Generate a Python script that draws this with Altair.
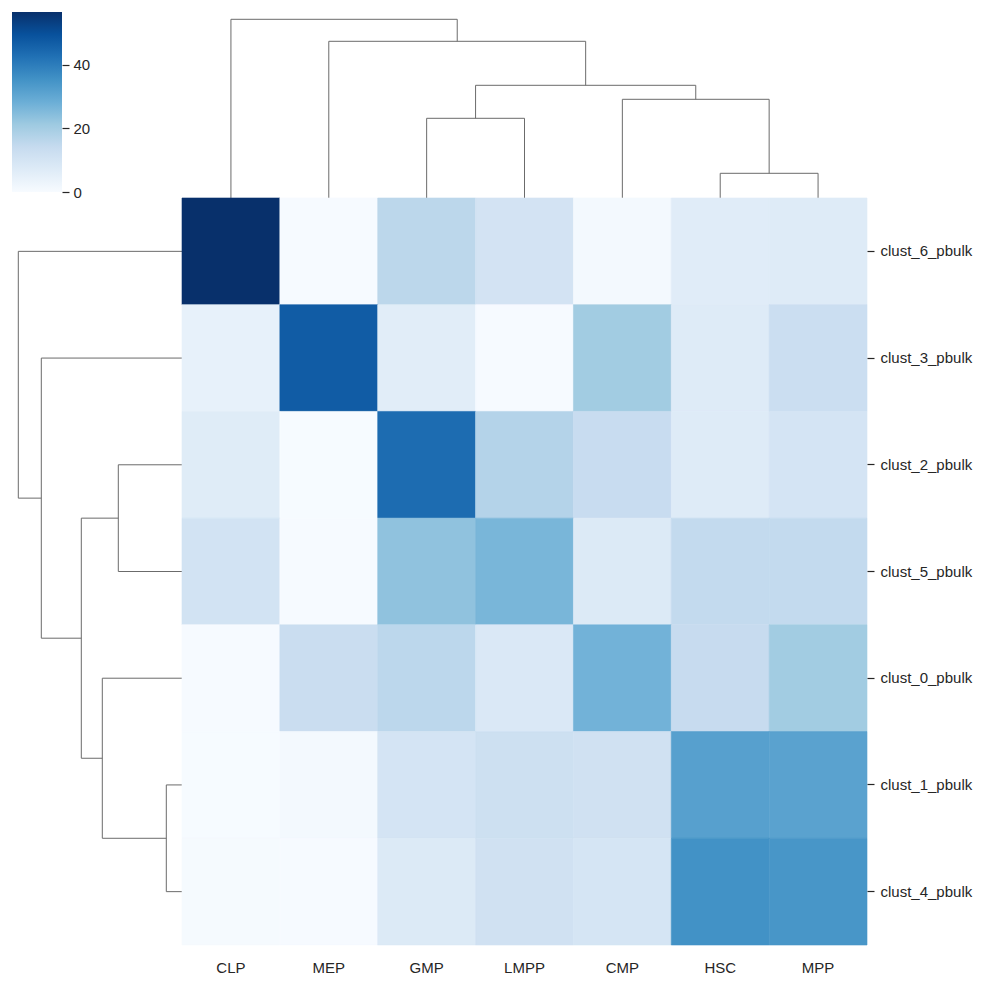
import altair as alt
import pandas as pd

# ---- data -------------------------------------------------------------
columns = ["CLP", "MEP", "GMP", "LMPP", "CMP", "HSC", "MPP"]
rows = ["clust_6_pbulk", "clust_3_pbulk", "clust_2_pbulk", "clust_5_pbulk",
        "clust_0_pbulk", "clust_1_pbulk", "clust_4_pbulk"]

clust_6 = [56.6, 0.3, 16.0, 10.4, 1.1, 6.6, 7.2]
clust_3 = [4.6, 47.0, 6.3, 0.3, 20.5, 7.2, 12.8]
clust_2 = [6.8, 0.2, 43.6, 17.3, 13.7, 7.2, 10.1]
clust_5 = [10.7, 0.3, 23.2, 26.3, 7.7, 14.6, 14.6]
clust_0 = [0.3, 13.1, 15.9, 8.3, 27.3, 14.0, 20.5]
clust_1 = [0.2, 1.1, 10.1, 12.1, 11.3, 31.8, 31.3]
clust_4 = [0.6, 0.3, 7.7, 11.3, 9.7, 35.3, 34.4]
matrix = [clust_6, clust_3, clust_2, clust_5, clust_0, clust_1, clust_4]

# linkage (leaf ids 0..6 in display order, internal nodes 7..)
col_link_left = [5, 2, 4, 8, 1, 0]
col_link_right = [6, 3, 7, 9, 10, 11]
col_link_height = [24.7, 79.7, 98.7, 112.7, 156.7, 178.7]

row_link_left = [5, 2, 4, 8, 1, 0]
row_link_right = [6, 3, 7, 9, 10, 11]
row_link_height = [15.7, 63.7, 79.7, 100.7, 140.7, 163.7]

colorbar_ticks = [0, 20, 40]
blues = ["#f7fbff", "#deebf7", "#c6dbef", "#9ecae1", "#6baed6",
         "#4292c6", "#2171b5", "#08519c", "#08306b"]

# ---- derived tables ---------------------------------------------------
heat = pd.DataFrame([
    {"row": r, "col": c, "value": matrix[i][j]}
    for i, r in enumerate(rows) for j, c in enumerate(columns)
])
vmin = 0.0
vmax = float(heat["value"].max())
stops_domain = [vmin + (vmax - vmin) * k / (len(blues) - 1) for k in range(len(blues))]


def dendro_segments(lefts, rights, heights, n):
    pos = {i: i + 0.5 for i in range(n)}
    hgt = {i: 0.0 for i in range(n)}
    segs = []
    for k, (a, b, d) in enumerate(zip(lefts, rights, heights)):
        segs.append({"p": pos[a], "p2": pos[a], "d": hgt[a], "d2": d})
        segs.append({"p": pos[b], "p2": pos[b], "d": hgt[b], "d2": d})
        segs.append({"p": pos[a], "p2": pos[b], "d": d, "d2": d})
        pos[n + k] = (pos[a] + pos[b]) / 2
        hgt[n + k] = d
    return pd.DataFrame(segs)


col_segs = dendro_segments(col_link_left, col_link_right, col_link_height, len(columns))
row_segs = dendro_segments(row_link_left, row_link_right, row_link_height, len(rows))

FONT = "Liberation Sans"
TXT = "#262626"
LINE = "#6b6b6b"
FS = 15

HEAT_W, HEAT_H = 685, 747
ROWD_W = 170
COLD_H = 186

# ---- colorbar ---------------------------------------------------------
cb_df = pd.DataFrame({"lo": [vmin], "hi": [vmax]})
colorbar = alt.Chart(cb_df).mark_rect(
    color=alt.Gradient(
        gradient="linear",
        stops=[alt.GradientStop(color=c, offset=k / (len(blues) - 1)) for k, c in enumerate(blues)],
        x1=0, x2=0, y1=1, y2=0,
    )
).encode(
    y=alt.Y("lo:Q", scale=alt.Scale(domain=[vmin, vmax], nice=False, zero=False),
            axis=alt.Axis(orient="right", values=colorbar_ticks, title=None, grid=False,
                          domain=False, ticks=True, tickSize=7, tickColor=TXT, tickWidth=1.2,
                          labelPadding=4, labelFont=FONT, labelFontSize=FS, labelColor=TXT)),
    y2="hi:Q",
).properties(width=50, height=180)

# ---- column dendrogram ------------------------------------------------
col_dendro = alt.Chart(col_segs).mark_rule(color=LINE, strokeWidth=1).encode(
    x=alt.X("p:Q", scale=alt.Scale(domain=[0, len(columns)], nice=False, zero=False), axis=None),
    x2="p2:Q",
    y=alt.Y("d:Q", scale=alt.Scale(domain=[0, COLD_H], nice=False, zero=False), axis=None),
    y2="d2:Q",
).properties(width=HEAT_W, height=COLD_H)

# ---- row dendrogram ---------------------------------------------------
row_dendro = alt.Chart(row_segs).mark_rule(color=LINE, strokeWidth=1).encode(
    y=alt.Y("p:Q", scale=alt.Scale(domain=[0, len(rows)], nice=False, zero=False, reverse=True), axis=None),
    y2="p2:Q",
    x=alt.X("d:Q", scale=alt.Scale(domain=[0, ROWD_W], nice=False, zero=False, reverse=True), axis=None),
    x2="d2:Q",
).properties(width=ROWD_W, height=HEAT_H)

# ---- heatmap ----------------------------------------------------------
color_scale = alt.Scale(domain=stops_domain, range=blues, interpolate="rgb")
heatmap = alt.Chart(heat).mark_rect(strokeWidth=0.6).encode(
    x=alt.X("col:N", sort=columns, scale=alt.Scale(paddingInner=0, paddingOuter=0),
            axis=alt.Axis(orient="bottom", title=None, labelAngle=0, ticks=False, tickSize=0,
                          domain=False, grid=False, labelPadding=15, labelFont=FONT,
                          labelFontSize=FS, labelColor=TXT)),
    y=alt.Y("row:N", sort=rows, scale=alt.Scale(paddingInner=0, paddingOuter=0),
            axis=alt.Axis(orient="right", title=None, ticks=True, tickSize=7, tickColor=TXT,
                          tickWidth=1.2, domain=False, grid=False, labelPadding=6,
                          labelFont=FONT, labelFontSize=FS, labelColor=TXT)),
    color=alt.Color("value:Q", legend=None, scale=color_scale),
    stroke=alt.Stroke("value:Q", legend=None, scale=color_scale),
).properties(width=HEAT_W, height=HEAT_H)

chart = alt.ConcatChart(
    concat=[colorbar, col_dendro, row_dendro, heatmap],
    columns=2,
    spacing=0,
    align="each",
    bounds="flush",
).properties(
    padding={"left": 12, "top": 12, "right": 5, "bottom": 5},
    background="white",
).configure_view(strokeWidth=0)

chart.save("out.html", embed_options={"renderer": "svg", "actions": False})
